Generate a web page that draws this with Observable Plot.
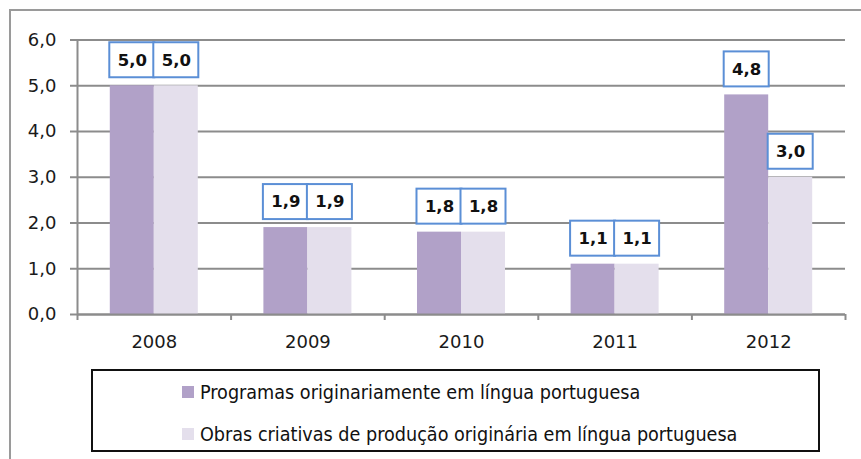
<!DOCTYPE html>
<html><head><meta charset="utf-8">
<script src="https://cdn.jsdelivr.net/npm/d3@7"></script>
<script src="https://cdn.jsdelivr.net/npm/@observablehq/plot@0.6"></script>
<style>
body{margin:0;background:#fff;}
#wrap{position:relative;width:861px;height:459px;overflow:hidden;font-family:"DejaVu Sans",sans-serif;background:#fff;}
#frame{position:absolute;left:9px;top:9px;width:900px;height:500px;border-top:2px solid #9a9a9a;border-left:2px solid #9a9a9a;}
#chart{position:absolute;left:0;top:0;}
#legend{position:absolute;left:91px;top:369px;width:729px;height:83px;box-sizing:border-box;border:2px solid #111;}
.item{position:absolute;left:182px;height:24px;display:flex;align-items:center;font-family:"DejaVu Sans Condensed","DejaVu Sans",sans-serif;font-stretch:condensed;font-size:19.6px;color:#111;white-space:nowrap;}
.sw{width:12px;height:12px;margin-right:6px;flex:none;}
</style></head><body>
<div id="wrap"><div id="frame"></div><div id="chart"></div><div id="legend"></div><div id="items"></div></div>
<script>
const years = [2008, 2009, 2010, 2011, 2012];
const programas = [5.0, 1.9, 1.8, 1.1, 4.8];
const obras = [5.0, 1.9, 1.8, 1.1, 3.0];
const seriesNames = ["Programas originariamente em língua portuguesa", "Obras criativas de produção originária em língua portuguesa"];
const seriesColors = ["#b1a1c8", "#e4dfec"];
const yTicks = [0, 1, 2, 3, 4, 5, 6];
const xBounds = [2007.5, 2008.5, 2009.5, 2010.5, 2011.5, 2012.5];

const barW = 0.2865; // bar width in year units
const rows = years.flatMap((yr, i) => [
  {year: yr, series: seriesNames[0], value: programas[i], x1: yr - barW, x2: yr},
  {year: yr, series: seriesNames[1], value: obras[i], x1: yr, x2: yr + barW}
]);
const fmt = v => v.toFixed(1).replace(".", ",");
const grid = "#8c8c8c";

const plot = Plot.plot({
  width: 861, height: 459,
  marginLeft: 77, marginRight: 16, marginTop: 39.5, marginBottom: 145,
  style: {fontFamily: "DejaVu Sans", fontSize: "18px", color: "#1a1a1a", background: "transparent", overflow: "visible"},
  x: {domain: [xBounds[0], xBounds[xBounds.length - 1]], axis: null},
  y: {domain: [0, 6], axis: null},
  color: {domain: seriesNames, range: seriesColors},
  marks: [
    Plot.ruleY(yTicks, {stroke: grid, strokeWidth: 2}),
    Plot.rect(rows, {x1: "x1", x2: "x2", y1: 0, y2: "value", fill: "series"}),
    Plot.ruleX([xBounds[0]], {stroke: grid, strokeWidth: 2}),
    Plot.ruleY([0], {stroke: grid, strokeWidth: 2}),
    Plot.axisY(yTicks, {tickSize: 7, tickPadding: 14, tickFormat: fmt, stroke: grid, strokeWidth: 2, fontSize: 18, label: null}),
    Plot.axisX(xBounds, {tickSize: 6, text: null, stroke: grid, strokeWidth: 2, label: null}),
    Plot.axisX(years, {tickSize: 0, tickPadding: 21, tickFormat: d => String(d), fontSize: 18, label: null}),
    Plot.rect(rows, {x1: "x1", x2: "x2", y1: "value", y2: "value", insetTop: -43, insetBottom: 8, insetLeft: -0.5, insetRight: -0.5, fill: "white", stroke: "#5b8fd6", strokeWidth: 2}),
    Plot.text(rows, {x: d => (d.x1 + d.x2) / 2, y: "value", text: d => fmt(d.value), dy: -25.5, fontWeight: "bold", fontSize: 16.5, fill: "#111"})
  ]
});
document.getElementById("chart").appendChild(plot);

const items = document.getElementById("items");
const tops = [380, 422];
seriesNames.forEach((name, i) => {
  const it = document.createElement("div");
  it.className = "item";
  it.style.top = tops[i] + "px";
  const sw = document.createElement("span");
  sw.className = "sw";
  sw.style.background = plot.scale("color").apply(name);
  const tx = document.createElement("span");
  tx.textContent = name;
  it.appendChild(sw); it.appendChild(tx);
  items.appendChild(it);
});
</script>
</body></html>
